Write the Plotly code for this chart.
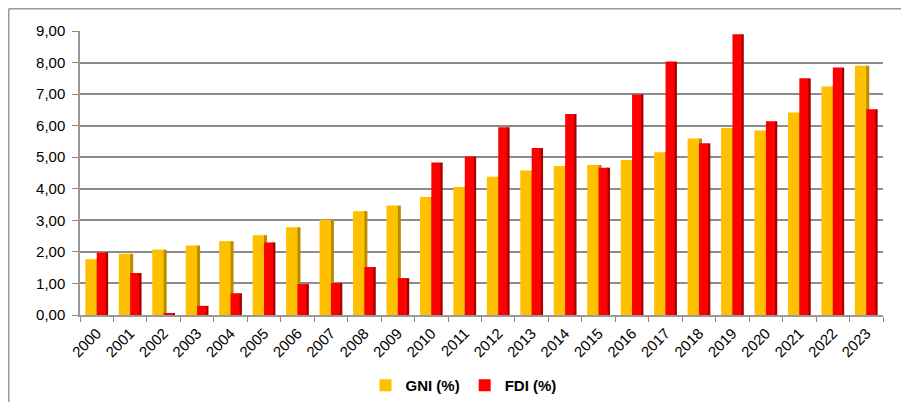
import plotly.graph_objects as go

years = [str(y) for y in range(2000, 2024)]
gni = [1.77, 1.94, 2.07, 2.20, 2.34, 2.53, 2.78, 3.02, 3.29, 3.47, 3.74, 4.06,
       4.38, 4.58, 4.72, 4.75, 4.91, 5.16, 5.59, 5.93, 5.85, 6.42, 7.24, 7.90]
fdi = [1.98, 1.33, 0.05, 0.29, 0.69, 2.30, 0.98, 1.01, 1.52, 1.17, 4.83, 5.02,
       5.95, 5.29, 6.37, 4.67, 6.99, 8.03, 5.44, 8.90, 6.14, 7.50, 7.84, 6.52]

FONT = "Arial, Liberation Sans, sans-serif"

fig = go.Figure()
# side faces (pseudo-3D) drawn behind the front faces
fig.add_trace(go.Bar(x=years, y=gni, name="GNI side", showlegend=False, hoverinfo="skip",
                     offset=-0.02, width=0.11, marker=dict(color="#B88E00", line_width=0)))
fig.add_trace(go.Bar(x=years, y=gni, name="GNI (%)", offset=-0.34, width=0.34,
                     marker=dict(color="#FFC000", line_width=0)))
fig.add_trace(go.Bar(x=years, y=fdi, name="FDI side", showlegend=False, hoverinfo="skip",
                     offset=0.25, width=0.09, marker=dict(color="#A80000", line_width=0)))
fig.add_trace(go.Bar(x=years, y=fdi, name="FDI (%)", offset=0.0, width=0.27,
                     marker=dict(color="#FF0000", line_width=0)))

# figure is drawn inside a page with an 8px body margin
fig.update_layout(
    width=901, height=394,
    margin=dict(l=72, r=26, t=23, b=87, autoexpand=False),
    paper_bgcolor="white", plot_bgcolor="white",
    barmode="overlay",
    separators=", ",
    font=dict(family=FONT, size=14, color="black"),
    showlegend=True,
    legend=dict(orientation="h", x=0.4776, xanchor="center", y=-0.19, yanchor="top",
                font=dict(family=FONT, size=15, color="black", weight="bold"),
                tracegroupgap=0, itemwidth=30),
    shapes=[
        dict(type="line", xref="paper", yref="paper", x0=-0.0887, x1=1.04, y0=1.0783, y1=1.0783,
             line=dict(color="#999999", width=1.5)),
        dict(type="line", xref="paper", yref="paper", x0=-0.0887, x1=-0.0887, y0=1.0783, y1=-0.40,
             line=dict(color="#999999", width=1.5)),
    ],
)
fig.update_xaxes(type="category", tickangle=-45, tickson="boundaries", ticks="outside",
                 ticklen=5, tickcolor="#888888", showline=True, linecolor="#999999",
                 linewidth=1.5, showgrid=False, tickfont=dict(size=15), automargin=False,
                 ticklabelstandoff=2)
fig.update_yaxes(range=[0, 9], dtick=1, tickformat=".2f", showgrid=True,
                 gridcolor="#8c8c8c", gridwidth=1.5, showline=True, linecolor="#999999",
                 linewidth=1.5, ticks="outside", ticklen=6, tickcolor="#888888",
                 zeroline=False, tickfont=dict(size=15), automargin=False,
                 ticklabelstandoff=4)

fig.write_html("out.html")
